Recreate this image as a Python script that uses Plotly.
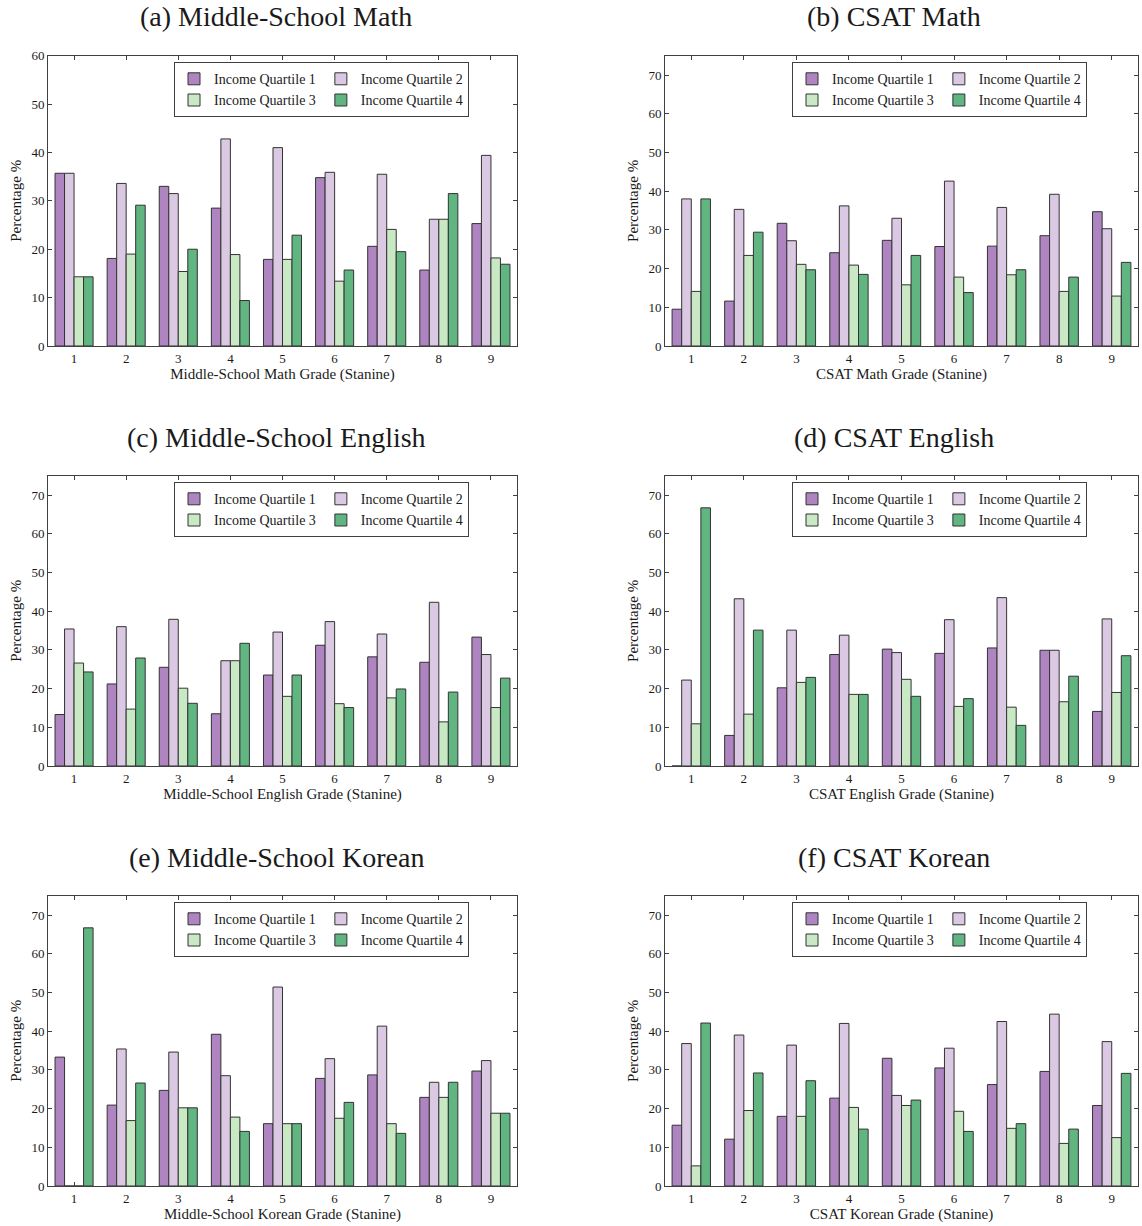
import plotly.graph_objects as go

# ---------------------------------------------------------------------------
# Data: share of students (%) in each income quartile, per stanine grade
# ---------------------------------------------------------------------------
grades = [1, 2, 3, 4, 5, 6, 7, 8, 9]
quartile_names = ["Income Quartile 1", "Income Quartile 2",
                  "Income Quartile 3", "Income Quartile 4"]

# (a) Middle-School Math
ms_math_q1 = [35.7, 18.1, 33.0, 28.5, 17.9, 34.8, 20.6, 15.7, 25.3]
ms_math_q2 = [35.7, 33.6, 31.5, 42.8, 41.0, 35.9, 35.5, 26.2, 39.4]
ms_math_q3 = [14.3, 19.0, 15.4, 18.9, 17.9, 13.4, 24.1, 26.2, 18.2]
ms_math_q4 = [14.3, 29.1, 20.0, 9.4, 22.9, 15.7, 19.5, 31.5, 16.9]

# (b) CSAT Math
csat_math_q1 = [9.5, 11.6, 31.7, 24.1, 27.3, 25.7, 25.8, 28.5, 34.7]
csat_math_q2 = [38.0, 35.3, 27.2, 36.2, 33.0, 42.6, 35.8, 39.2, 30.3]
csat_math_q3 = [14.1, 23.4, 21.1, 20.9, 15.8, 17.8, 18.4, 14.1, 12.9]
csat_math_q4 = [38.0, 29.4, 19.7, 18.5, 23.4, 13.8, 19.7, 17.8, 21.6]

# (c) Middle-School English
ms_eng_q1 = [13.3, 21.2, 25.5, 13.5, 23.5, 31.2, 28.2, 26.8, 33.3]
ms_eng_q2 = [35.4, 36.0, 37.9, 27.2, 34.6, 37.3, 34.1, 42.3, 28.8]
ms_eng_q3 = [26.6, 14.7, 20.1, 27.2, 18.0, 16.1, 17.6, 11.4, 15.1]
ms_eng_q4 = [24.3, 27.9, 16.2, 31.7, 23.5, 15.1, 19.9, 19.1, 22.7]

# (d) CSAT English
csat_eng_q1 = [0.0, 7.9, 20.2, 28.8, 30.2, 29.1, 30.5, 29.9, 14.1]
csat_eng_q2 = [22.2, 43.2, 35.1, 33.8, 29.3, 37.8, 43.5, 29.9, 38.0]
csat_eng_q3 = [10.9, 13.4, 21.6, 18.5, 22.4, 15.4, 15.2, 16.6, 19.0]
csat_eng_q4 = [66.7, 35.1, 22.9, 18.5, 18.0, 17.4, 10.5, 23.2, 28.5]

# (e) Middle-School Korean
ms_kor_q1 = [33.3, 20.9, 24.7, 39.2, 16.1, 27.8, 28.7, 22.9, 29.7]
ms_kor_q2 = [0.0, 35.4, 34.6, 28.5, 51.4, 32.9, 41.3, 26.8, 32.4]
ms_kor_q3 = [0.0, 16.9, 20.2, 17.8, 16.1, 17.5, 16.1, 22.9, 18.8]
ms_kor_q4 = [66.7, 26.6, 20.2, 14.1, 16.1, 21.6, 13.6, 26.8, 18.8]

# (f) CSAT Korean
csat_kor_q1 = [15.7, 12.1, 18.0, 22.7, 33.0, 30.5, 26.2, 29.6, 20.8]
csat_kor_q2 = [36.8, 39.0, 36.4, 42.0, 23.4, 35.6, 42.5, 44.4, 37.3]
csat_kor_q3 = [5.2, 19.5, 18.0, 20.3, 20.8, 19.3, 14.9, 11.0, 12.5]
csat_kor_q4 = [42.1, 29.2, 27.2, 14.7, 22.2, 14.1, 16.1, 14.7, 29.1]

panel_titles = ["(a) Middle-School Math", "(b) CSAT Math",
                "(c) Middle-School English", "(d) CSAT English",
                "(e) Middle-School Korean", "(f) CSAT Korean"]
x_titles = ["Middle-School Math Grade (Stanine)", "CSAT Math Grade (Stanine)",
            "Middle-School English Grade (Stanine)", "CSAT English Grade (Stanine)",
            "Middle-School Korean Grade (Stanine)", "CSAT Korean Grade (Stanine)"]
y_title = "Percentage %"
y_limits = [60, 75, 75, 75, 75, 75]

panel_series = [
    [ms_math_q1, ms_math_q2, ms_math_q3, ms_math_q4],
    [csat_math_q1, csat_math_q2, csat_math_q3, csat_math_q4],
    [ms_eng_q1, ms_eng_q2, ms_eng_q3, ms_eng_q4],
    [csat_eng_q1, csat_eng_q2, csat_eng_q3, csat_eng_q4],
    [ms_kor_q1, ms_kor_q2, ms_kor_q3, ms_kor_q4],
    [csat_kor_q1, csat_kor_q2, csat_kor_q3, csat_kor_q4],
]

# ---------------------------------------------------------------------------
# Styling
# ---------------------------------------------------------------------------
W, H = 1142, 1226
FONT = "Liberation Serif"
TEXT = "#1a1a1a"
AXIS = "#404040"
EDGE = "#333333"
colors = ["#ae85c1", "#dbc9e3", "#c9e9c5", "#60b580"]

# plot-area boxes in pixels: columns (left, right) and rows (top, bottom)
col_px = [(48, 517), (665, 1138)]
row_px = [(55.7, 346), (475.7, 766), (895.7, 1186)]
title_cx = [276, 894]
title_y = [17, 437, 857]
legend_left = [174, 792]
legend_top_gap = 6.5       # legend top below plot-area top


def px_x(v):
    return v / W


def px_y(v):
    return 1 - v / H


fig = go.Figure()
layout_axes = {}
annotations = []

for k in range(6):
    r, c = divmod(k, 2)
    idx = "" if k == 0 else str(k + 1)
    xa, ya = "x" + idx, "y" + idx
    leg = "legend" + idx

    for q in range(4):
        fig.add_trace(go.Bar(
            x=grades,
            y=panel_series[k][q],
            name=quartile_names[q],
            marker=dict(color=colors[q], line=dict(color=EDGE, width=1)),
            xaxis=xa, yaxis=ya,
            legend=leg,
            legendgroup=f"p{k}c{q % 2}",
        ))

    axis_style = dict(
        showline=True, linecolor=AXIS, linewidth=1, mirror="ticks",
        ticks="inside", ticklen=4, tickcolor=AXIS, tickwidth=1,
        showgrid=False, zeroline=False, automargin=False, layer="below traces",
        tickfont=dict(family=FONT, size=13, color=TEXT),
    )
    layout_axes["xaxis" + idx] = dict(
        axis_style,
        domain=[px_x(col_px[c][0]), px_x(col_px[c][1])],
        anchor=ya, range=[0.5, 9.5], tickvals=grades,
        title=dict(text=x_titles[k], standoff=3,
                   font=dict(family=FONT, size=15, color=TEXT)),
    )
    layout_axes["yaxis" + idx] = dict(
        axis_style,
        domain=[px_y(row_px[r][1]), px_y(row_px[r][0])],
        anchor=xa, range=[0, y_limits[k]], dtick=10, tick0=0,
        title=dict(text=y_title, standoff=6,
                   font=dict(family=FONT, size=15, color=TEXT)),
    )
    layout_axes[leg] = dict(
        x=px_x(legend_left[c]), xanchor="left",
        y=px_y(row_px[r][0] + legend_top_gap), yanchor="top",
        orientation="h", traceorder="grouped",
        bgcolor="white", bordercolor=AXIS, borderwidth=1,
        font=dict(family=FONT, size=14, color=TEXT),
        itemclick=False, itemdoubleclick=False,
    )
    annotations.append(dict(
        text=panel_titles[k], xref="paper", yref="paper",
        x=px_x(title_cx[c]), y=px_y(title_y[r]),
        xanchor="center", yanchor="middle", showarrow=False,
        font=dict(family=FONT, size=28, color=TEXT),
    ))

fig.update_layout(
    width=W, height=H,
    margin=dict(l=0, r=0, t=0, b=0),
    paper_bgcolor="white", plot_bgcolor="white",
    barmode="group", bargap=0.27, bargroupgap=0,
    font=dict(family=FONT, color=TEXT),
    annotations=annotations,
    **layout_axes,
)

fig.write_html("out.html")
